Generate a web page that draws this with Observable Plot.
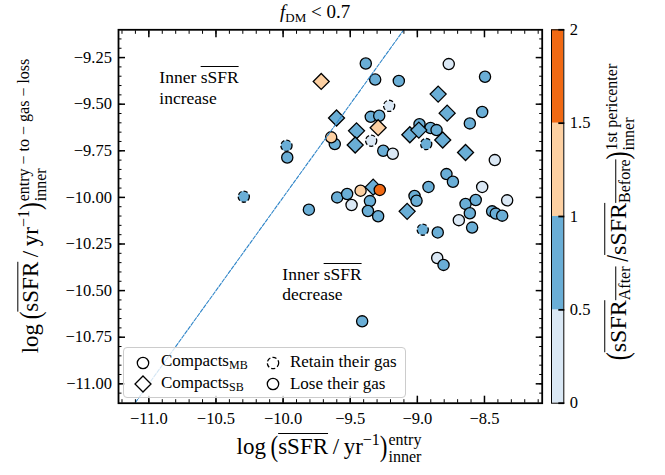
<!DOCTYPE html>
<html><head><meta charset="utf-8">
<script src="https://cdn.jsdelivr.net/npm/d3@7"></script>
<script src="https://cdn.jsdelivr.net/npm/@observablehq/plot@0.6"></script>
<style>
body{margin:0;background:#fff;}
#wrap{position:relative;width:665px;height:475px;font-family:"Liberation Serif","Times New Roman",serif;color:#000;overflow:hidden;}
#wrap svg{position:absolute;top:0;overflow:visible;}
#wrap svg text{font-family:"Liberation Serif","Times New Roman",serif;}
.lbl{position:absolute;white-space:nowrap;line-height:1.15;}
.ov{text-decoration:overline;text-decoration-thickness:1px;}
.ss{display:inline-block;vertical-align:-8px;font-size:16px;line-height:17px;text-align:left;margin-left:1px;}
.ss>span{display:block;}
.sp{font-size:16px;vertical-align:9px;}
.sb{font-size:16px;vertical-align:-4px;}
.par{display:inline-block;transform:scale(1,1.3);}
#legend{position:absolute;box-sizing:border-box;border:1px solid #cccccc;border-radius:4px;background:rgba(255,255,255,0.8);font-size:17px;}
#legend .sb{font-size:12px;vertical-align:-3px;}
#legend .it{position:absolute;white-space:nowrap;line-height:1;}
#legend svg{position:absolute;}
</style></head><body><div id="wrap"></div><script>
// ---------- data ----------
// x: log(sSFR/yr^-1) at entry, y: log(sSFR/yr^-1) entry-to-gas-loss
// kind: MB = circle, SB = diamond ; gas: retain (dashed edge) / lose
const xEntry = [-9.384,-9.314,-9.138,-8.766,-8.496,-9.210,-8.517,-9.347,-9.284,-8.609,
                -8.984,-8.902,-8.857,-8.934,-9.642,-9.615,-9.344,-9.254,-9.183,-8.423,
                -9.975,-9.969,-10.293,-9.808,-9.597,-9.523,-9.490,-9.353,-9.368,-9.292,
                -9.021,-9.006,-8.917,-8.783,-8.735,-8.517,-8.641,-8.565,-8.609,-8.691,
                -8.331,-8.443,-8.416,-8.368,-8.592,-8.960,-8.848,-8.852,-8.805,-9.411,
                -9.716,-8.845,-8.778,-9.602,-9.292,-9.453,-9.463,-9.056,-8.989,-8.811,
                -8.641,-9.329,-9.076,
                -9.423,-9.280];
const yLoss  = [-9.282,-9.368,-9.375,-9.285,-9.353,-9.509,-9.542,-9.568,-9.562,-9.603,
                -9.607,-9.628,-9.639,-9.714,-9.678,-9.714,-9.696,-9.750,-9.766,-9.800,
                -9.723,-9.786,-9.996,-10.066,-10.000,-9.982,-10.041,-10.020,-10.073,-10.101,
                -9.992,-10.018,-9.944,-9.875,-9.916,-9.944,-10.035,-10.014,-10.085,-10.122,
                -10.016,-10.075,-10.087,-10.098,-10.162,-10.173,-10.188,-10.325,-10.362,-10.665,
                -9.378,-9.446,-9.548,-9.574,-9.626,-9.643,-9.719,-9.664,-9.639,-9.692,
                -9.759,-9.945,-10.075,
                -9.964,-9.960];
const ratio  = [0.75,0.75,0.75,0.25,0.75,0.25,0.75,0.75,0.75,0.75,
                0.75,0.75,0.75,0.75,1.25,0.75,0.25,0.75,0.25,0.25,
                0.75,0.75,0.75,0.75,0.75,0.75,0.25,0.75,0.75,0.75,
                0.75,0.75,0.75,0.75,0.75,0.25,0.75,0.75,0.75,0.25,
                0.25,0.75,0.75,0.75,0.75,0.75,0.75,0.25,0.75,0.75,
                1.25,0.75,0.75,0.75,1.25,0.75,0.75,0.75,0.75,0.75,
                0.75,0.75,0.75,
                1.25,1.75];
const kind   = ["MB","MB","MB","MB","MB","MB","MB","MB","MB","MB",
                "MB","MB","MB","MB","MB","MB","MB","MB","MB","MB",
                "MB","MB","MB","MB","MB","MB","MB","MB","MB","MB",
                "MB","MB","MB","MB","MB","MB","MB","MB","MB","MB",
                "MB","MB","MB","MB","MB","MB","MB","MB","MB","MB",
                "SB","SB","SB","SB","SB","SB","SB","SB","SB","SB",
                "SB","SB","SB",
                "MB","MB"];
const gas    = ["lose","lose","lose","lose","lose","retain","lose","lose","lose","lose",
                "lose","lose","lose","retain","lose","lose","retain","lose","lose","lose",
                "retain","lose","retain","lose","lose","lose","lose","lose","lose","lose",
                "lose","lose","lose","lose","lose","lose","lose","lose","lose","lose",
                "lose","lose","lose","lose","lose","retain","lose","lose","lose","lose",
                "lose","lose","lose","lose","lose","lose","lose","lose","lose","lose",
                "lose","lose","lose",
                "lose","lose"];

// colour bar (threshold bins)
const cbEdges  = [0, 0.5, 1, 1.5, 2];
const cbColors = ["#dae8f5", "#6aaed6", "#fdd0a2", "#f16913"];
const cbTickLabels = ["0", "0.5", "1", "1.5", "2"];

// axes
const xDomain = [-11.226, -8.070];
const yDomain = [-11.104, -9.101];
const xMajor = [-11.0, -10.5, -10.0, -9.5, -9.0, -8.5];
const yMajor = [-11.00, -10.75, -10.50, -10.25, -10.00, -9.75, -9.50, -9.25];
const xMinor = d3.range(-11.2, -8.05, 0.1).map(v => +v.toFixed(2));
const yMinor = d3.range(-11.05, -9.12, 0.05).map(v => +v.toFixed(3));
const diagonal = [-11.4, -8.9]; // the 1:1 line y = x

// annotation anchors (data coords, left/baseline)
const annotX = [-10.918, -10.002];
const annotY = [-9.391, -10.446];

// ---------- build ----------
const pts = xEntry.map((x, i) => ({x, y: yLoss[i], ratio: ratio[i], kind: kind[i], gas: gas[i]}));
const retainPts = pts.filter(d => d.gas === "retain");
const lose = pts.filter(d => d.gas === "lose");
const loseCircBlue = lose.filter(d => d.kind === "MB" && d.ratio < 1);
const loseDiam = lose.filter(d => d.kind === "SB");
const loseCircOrange = lose.filter(d => d.kind === "MB" && d.ratio >= 1);
const diagData = diagonal.map(v => ({x: v, y: v}));
const cbBins = cbColors.map((c, i) => ({lo: cbEdges[i], hi: cbEdges[i + 1], mid: (cbEdges[i] + cbEdges[i + 1]) / 2}));

const M = {left: 118, right: 123.3, top: 29.3, bottom: 72.3};
const FS = 16.5;
const FONT = "'Liberation Serif', serif";
const colorScale = {type: "threshold", domain: cbEdges.slice(1, -1), range: cbColors};
const fmtX = d3.format(".1f"), fmtY = d3.format(".2f");

const tickAxes = (fn, anchor, major, minor) => [
  fn({anchor, ticks: minor, tickSize: -3.5, tickFormat: () => "", strokeWidth: 1}),
  fn({anchor, ticks: major, tickSize: -7, tickFormat: () => "", strokeWidth: 1.5})
];

const main = Plot.plot({
  width: 665, height: 475,
  marginLeft: M.left, marginRight: M.right, marginTop: M.top, marginBottom: M.bottom,
  x: {domain: xDomain, label: null},
  y: {domain: yDomain, label: null},
  color: colorScale,
  style: {fontFamily: FONT, fontSize: FS + "px", color: "black", background: "transparent", overflow: "visible"},
  marks: [
    Plot.dot(retainPts, {x: "x", y: "y", r: 5.6, fill: "ratio", stroke: "black", strokeWidth: 1.3, strokeDasharray: "4.2,2.2"}),
    Plot.dot(loseCircBlue, {x: "x", y: "y", r: 5.6, fill: "ratio", stroke: "black", strokeWidth: 1.3}),
    Plot.dot(loseDiam, {x: "x", y: "y", r: 7.2, symbol: "diamond2", fill: "ratio", stroke: "black", strokeWidth: 1.3}),
    Plot.dot(loseCircOrange, {x: "x", y: "y", r: 5.6, fill: "ratio", stroke: "black", strokeWidth: 1.3}),
    Plot.line(diagData, {x: "x", y: "y", stroke: "#2f85c8", strokeWidth: 1.1, strokeDasharray: "3.7,1.6", clip: true}),
    ...tickAxes(Plot.axisX, "bottom", xMajor, xMinor),
    ...tickAxes(Plot.axisX, "top", xMajor, xMinor),
    ...tickAxes(Plot.axisY, "left", yMajor, yMinor),
    ...tickAxes(Plot.axisY, "right", yMajor, yMinor),
    Plot.axisX({anchor: "bottom", ticks: xMajor, tickSize: 0, tickPadding: 9, tickFormat: fmtX, fontSize: FS}),
    Plot.axisY({anchor: "left", ticks: yMajor, tickSize: 0, tickPadding: 6.5, tickFormat: fmtY, fontSize: FS}),
    Plot.frame({stroke: "black", strokeWidth: 1.8})
  ]
});
const wrap = document.getElementById("wrap");
main.style.left = "0px";
wrap.appendChild(main);

// colour bar
const cbLeft = 551, cbW = 12.3, cbSvgW = 665 - cbLeft;
const cb = Plot.plot({
  width: cbSvgW, height: 475,
  marginLeft: 0, marginRight: cbSvgW - cbW, marginTop: M.top, marginBottom: M.bottom,
  x: {domain: [0, 1], axis: null},
  y: {domain: [cbEdges[0], cbEdges[cbEdges.length - 1]], label: null},
  color: colorScale,
  style: {fontFamily: FONT, fontSize: FS + "px", color: "black", background: "transparent", overflow: "visible"},
  marks: [
    Plot.rectY(cbBins, {y1: "lo", y2: "hi", fill: "mid"}),
    Plot.axisY({anchor: "right", ticks: cbEdges, tickSize: -6, tickFormat: () => "", strokeWidth: 1.8}),
    Plot.axisY({anchor: "right", ticks: cbEdges, tickSize: 0, tickPadding: 6, tickFormat: (d, i) => cbTickLabels[i], fontSize: FS}),
    Plot.frame({stroke: "black", strokeWidth: 1})
  ]
});
cb.style.left = cbLeft + "px";
wrap.appendChild(cb);
// force the serif face on every tick label
d3.selectAll("#wrap svg text").style("font-family", "Liberation Serif").style("font-variant", "normal");

const sx = main.scale("x"), sy = main.scale("y");

// ---------- text overlays ----------
function addLabel(html, cx, cy, rotate, size) {
  const el = document.createElement("div");
  el.className = "lbl";
  el.style.fontSize = size + "px";
  el.innerHTML = html;
  wrap.appendChild(el);
  const w = el.offsetWidth, h = el.offsetHeight;
  el.style.left = (cx - w / 2) + "px";
  el.style.top = (cy - h / 2) + "px";
  if (rotate) el.style.transform = `rotate(${rotate}deg)`;
  return el;
}
const axisText = `log<span class="par">&thinsp;(</span><span class="ov">sSFR</span>&thinsp;/&thinsp;yr<span class="sp">−1</span><span class="par">)</span>`;
// x label
addLabel(`${axisText}<span class="ss"><span>entry</span><span>inner</span></span>`, 329, 448, 0, 23);
// y label
addLabel(`${axisText}<span class="ss"><span>entry − to − gas − loss</span><span>inner</span></span>`, 32, 206, -90, 23);
// colour-bar label
addLabel(`<span class="par">(</span><span class="ov">sSFR<span class="sb">After</span></span><span class="par">&thinsp;/</span><span class="ov">sSFR<span class="sb">Before</span></span><span class="par">)</span><span class="ss"><span>1st pericenter</span><span>inner</span></span>`, 620, 212, -90, 24);
// title
addLabel(`<i>f</i><span class="sb" style="font-size:13px">DM</span> &lt; 0.7`, 315, 13, 0, 19);

// annotations
function addAnnot(lines, xv, yv) {
  const el = document.createElement("div");
  el.className = "lbl";
  el.style.fontSize = "17.5px";
  el.style.lineHeight = "20.7px";
  el.innerHTML = lines.join("<br>");
  wrap.appendChild(el);
  el.style.left = sx.apply(xv) + "px";
  el.style.top = (sy.apply(yv) - 16.3) + "px";
}
addAnnot([`Inner <span class="ov">sSFR</span>`, "increase"], annotX[0], annotY[0]);
addAnnot([`Inner <span class="ov">sSFR</span>`, "decrease"], annotX[1], annotY[1]);

// legend
const leg = document.createElement("div");
leg.id = "legend";
Object.assign(leg.style, {left: "122.7px", top: "347.3px", width: "283.3px", height: "51px"});
wrap.appendChild(leg);
const legItems = [
  {sym: "circle", dash: false, label: `Compacts<span class="sb">MB</span>`, col: 0, row: 0},
  {sym: "diamond", dash: false, label: `Compacts<span class="sb">SB</span>`, col: 0, row: 1},
  {sym: "circle", dash: true, label: `Retain their gas`, col: 1, row: 0},
  {sym: "circle", dash: false, label: `Lose their gas`, col: 1, row: 1}
];
const colMarker = [19.6, 149.6], colText = [37.3, 166.3], rowY = [14.4, 36];
legItems.forEach(it => {
  const s = d3.create("svg").attr("width", 20).attr("height", 20)
    .style("left", (colMarker[it.col] - 10) + "px").style("top", (rowY[it.row] - 10) + "px");
  if (it.sym === "circle") {
    s.append("circle").attr("cx", 10).attr("cy", 10).attr("r", 5.7).attr("fill", "white")
      .attr("stroke", "black").attr("stroke-width", 1.3).attr("stroke-dasharray", it.dash ? "4.2,2.2" : null);
  } else {
    s.append("path").attr("d", d3.symbol(d3.symbolDiamond2, Math.PI * 7.2 * 7.2)()).attr("transform", "translate(10,10)")
      .attr("fill", "white").attr("stroke", "black").attr("stroke-width", 1.3);
  }
  leg.appendChild(s.node());
  const t = document.createElement("div");
  t.className = "it";
  t.innerHTML = it.label;
  leg.appendChild(t);
  t.style.left = colText[it.col] + "px";
  t.style.top = (rowY[it.row] - t.offsetHeight / 2 - 1) + "px";
});
</script></body></html>
